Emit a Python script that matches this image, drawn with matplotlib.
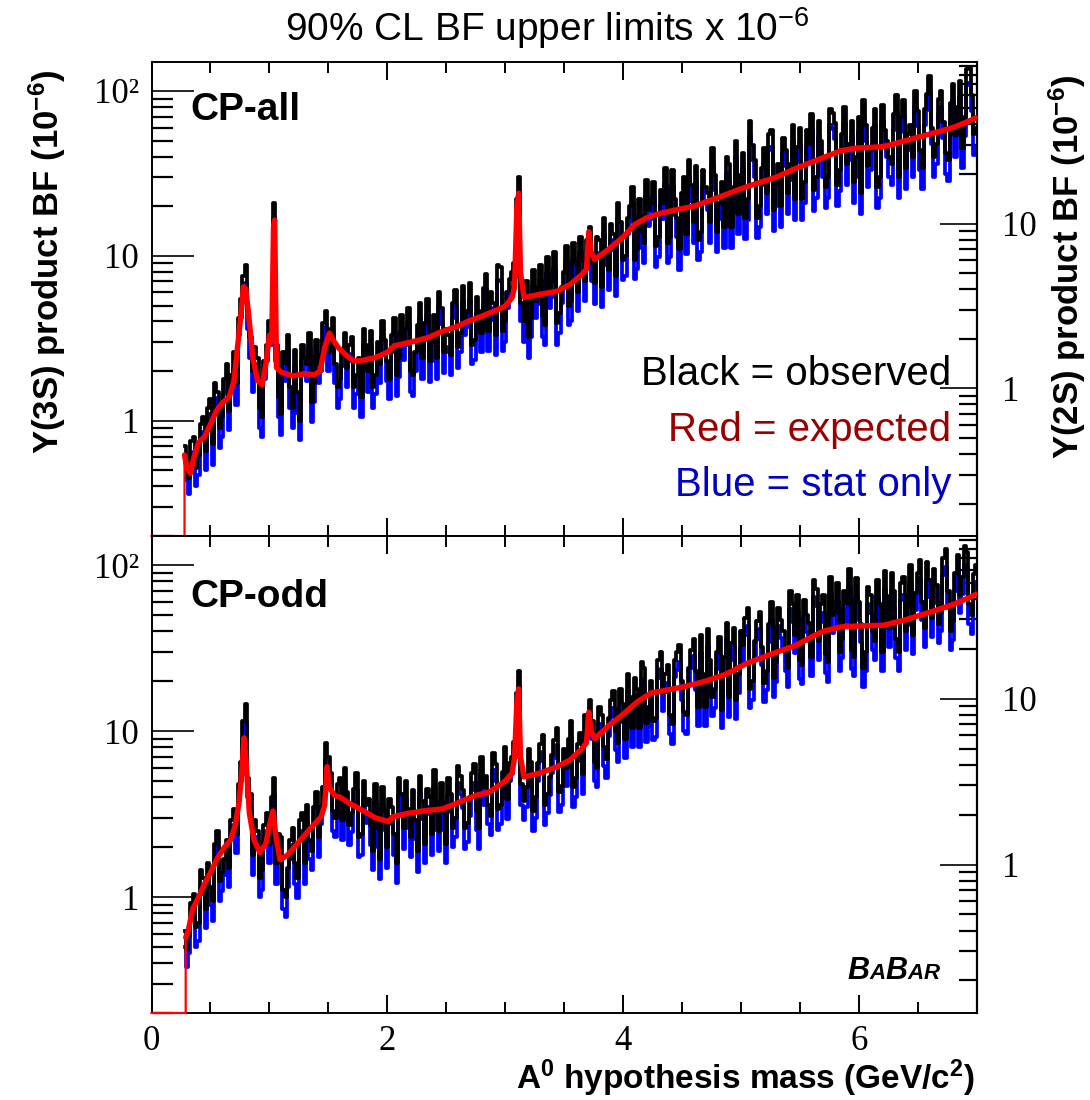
import numpy as np
import matplotlib
matplotlib.use("Agg")
import matplotlib.pyplot as plt
from matplotlib.ticker import MultipleLocator, LogLocator, NullFormatter

plt.rcParams['font.family'] = ['Liberation Sans', 'DejaVu Sans']
plt.rcParams['mathtext.fontset'] = 'custom'
plt.rcParams['mathtext.rm'] = 'Liberation Sans'
plt.rcParams['mathtext.it'] = 'Liberation Sans:italic'
plt.rcParams['mathtext.bf'] = 'Liberation Sans:bold'

# ---------------------------------------------------------------- data
# scan grid of A0 mass hypotheses (GeV/c^2)
MASS_START, MASS_STEP, N_POINTS = 0.28, 0.02, 337
mass = MASS_START + MASS_STEP * np.arange(N_POINTS)

# Upsilon(3S) product BF upper limits (x 1e-6), CP-all
obs_cp_all = [
    0.70, 0.55, 0.45, 0.75, 0.80, 0.52, 0.62, 0.95, 1.05, 0.66, 1.20, 1.35, 0.72, 1.7, 1.50, 0.90, 1.05, 1.8, 2.2, 1.15,
    1.9, 2.6, 1.7, 4.2, 5.5, 7.5, 8.8, 4.6, 3.2, 2.0, 2.8, 2.4, 1.2, 1.05, 2.3, 2.9, 4.0, 3.6, 21, 2.9,
    1.4, 1.1, 2.6, 2.2, 3.3, 1.6, 1.2, 2.7, 1.5, 1.0, 2.9, 2.4, 2.2, 3.4, 1.3, 1.7, 3.1, 2.2, 2.5, 3.9,
    4.6, 2.6, 3.6, 4.2, 2.2, 1.6, 1.8, 2.7, 3.4, 2.1, 2.9, 3.2, 1.6, 1.9, 2.4, 1.4, 3.6, 2.9, 2.0, 3.5,
    1.6, 1.9, 3.0, 2.2, 4.0, 3.1, 2.3, 1.8, 3.3, 4.2, 1.9, 2.4, 4.4, 3.0, 3.6, 4.8, 2.0, 1.9, 2.6, 3.8,
    5.2, 2.4, 3.9, 5.5, 2.3, 3.0, 4.4, 2.4, 6.0, 4.8, 2.6, 3.6, 3.3, 2.5, 5.2, 6.2, 2.8, 3.4, 6.6, 4.2,
    4.6, 6.8, 2.9, 3.1, 5.6, 4.6, 3.4, 6.4, 7.8, 3.5, 6.0, 5.2, 3.3, 8.8, 8.6, 3.5, 4.0, 6.0, 7.2, 8.0,
    9.0, 22, 30, 5.2, 4.0, 7.0, 3.2, 4.2, 8.2, 5.3, 6.4, 8.8, 4.3, 3.8, 9.8, 6.0, 7.0, 10.5, 3.9, 4.5,
    6.5, 8.0, 11.5, 5.0, 5.3, 12, 9.0, 6.0, 13, 9.5, 7.0, 12.5, 15, 9.0, 6.8, 13, 12.5, 6.5, 17, 11,
    8.2, 15.5, 13.5, 7.5, 21, 16, 9.5, 10, 17, 20, 26, 9.5, 11, 22, 14, 12, 29, 19, 21, 28,
    11.5, 13, 25, 21, 34, 12, 13, 33, 22, 17, 11, 24, 30, 13.5, 38, 27, 16, 35, 12.5, 14,
    33, 26, 24, 16, 45, 31, 14, 21, 28, 15, 40, 36, 15, 26, 50, 18, 31, 42, 17, 22,
    66, 47, 38, 17, 20, 34, 45, 24, 55, 58, 19, 27, 36, 20, 52, 44, 24, 36, 62, 22,
    46, 60, 22, 28, 58, 48, 72, 25, 30, 66, 50, 38, 26, 30, 78, 74, 64, 27, 33, 55,
    80, 36, 48, 66, 28, 40, 70, 24, 88, 62, 35, 44, 60, 78, 26, 30, 82, 58, 50, 40,
    36, 72, 95, 30, 70, 88, 34, 55, 62, 40, 100, 76, 44, 34, 78, 96, 123, 60, 40, 48,
    90, 100, 65, 42, 38, 84, 110, 54, 80, 115, 45, 70, 135, 140, 95, 55, 60,
]
stat_cp_all = [
    0.56, 0.44, 0.36, 0.6, 0.65, 0.40, 0.47, 0.77, 0.86, 0.5, 0.98, 1.1, 0.54, 1.38, 1.2, 0.68, 0.80, 1.45, 1.8, 0.88,
    1.5, 2.1, 1.25, 3.3, 4.2, 5.9, 6.8, 3.6, 2.4, 1.5, 2.2, 1.9, 0.90, 0.8, 1.8, 2.3, 3.2, 2.9, 17, 2.3,
    1.05, 0.82, 2.1, 1.75, 2.7, 1.2, 0.90, 2.15, 1.12, 0.76, 2.35, 1.9, 1.75, 2.75, 0.98, 1.3, 2.5, 1.7, 2.0, 3.1,
    3.7, 2.0, 2.9, 3.4, 1.7, 1.2, 1.35, 2.15, 2.75, 1.6, 2.3, 2.55, 1.2, 1.45, 1.9, 1.05, 2.9, 2.3, 1.5, 2.8,
    1.2, 1.45, 2.4, 1.7, 3.2, 2.5, 1.75, 1.35, 2.6, 3.4, 1.42, 1.85, 3.5, 2.35, 2.9, 3.9, 1.5, 1.42, 2.0, 3.0,
    4.2, 1.8, 3.1, 4.4, 1.72, 2.3, 3.5, 1.8, 4.9, 3.85, 1.95, 2.8, 2.6, 1.9, 4.2, 5.0, 2.1, 2.6, 5.3, 3.3,
    3.7, 5.5, 2.2, 2.35, 4.5, 3.6, 2.6, 5.1, 6.3, 2.65, 4.8, 4.1, 2.5, 7.1, 7.0, 2.65, 3.0, 4.8, 5.8, 6.4,
    7.3, 17.5, 24, 4.0, 3.0, 5.6, 2.4, 3.2, 6.6, 4.2, 5.1, 7.1, 3.2, 2.9, 7.9, 4.8, 5.6, 8.5, 2.9, 3.4,
    5.2, 6.4, 9.3, 3.8, 4.0, 9.7, 7.2, 4.6, 10.5, 7.6, 5.3, 10, 12, 7.0, 5.1, 10.4, 10, 4.9, 13.7, 8.8,
    6.2, 12.4, 10.8, 5.7, 17, 12.8, 7.1, 7.6, 13.6, 16, 21, 7.2, 8.3, 17.6, 11.2, 9.1, 23, 15.2, 16.8, 22.5,
    8.6, 9.8, 20, 16.8, 27, 9.0, 9.8, 26.5, 17.6, 13, 8.2, 19.2, 24, 10.2, 30, 21.6, 12, 28, 9.4, 10.5,
    26, 20.8, 19, 12, 36, 25, 10.5, 16.8, 22, 11.2, 32, 29, 11.2, 20.8, 40, 13.5, 25, 34, 12.7, 16.5,
    53, 38, 30, 12.8, 15, 27, 36, 18, 44, 46, 14.2, 20, 29, 15, 42, 35, 18, 29, 50, 16.5,
    37, 48, 16.5, 21, 46, 38, 58, 18.8, 22.5, 53, 40, 30, 19.5, 22.5, 62, 59, 51, 20, 24.7, 44,
    64, 27, 38, 53, 21, 30, 56, 18, 70, 50, 26, 33, 48, 62, 19.5, 22.5, 66, 46, 40, 30,
    27, 58, 76, 22.5, 56, 70, 25.5, 44, 50, 30, 80, 61, 33, 25.5, 62, 77, 98, 48, 30, 36,
    72, 80, 52, 31.5, 28.5, 67, 88, 40, 64, 92, 34, 53, 108, 112, 76, 41, 45,
]
exp_mass_cp_all = [
    0.0, 0.28, 0.28, 0.30, 0.33, 0.36, 0.40, 0.45, 0.50, 0.55,
    0.60, 0.66, 0.70, 0.73, 0.76, 0.78, 0.80, 0.83, 0.86, 0.90,
    0.94, 0.97, 1.00, 1.02, 1.035, 1.045, 1.06, 1.10, 1.20, 1.30,
    1.38, 1.43, 1.47, 1.51, 1.54, 1.58, 1.65, 1.72, 1.80, 1.90,
    2.00, 2.06, 2.20, 2.35, 2.45, 2.50, 2.60, 2.70, 2.80, 2.90,
    3.00, 3.06, 3.08, 3.10, 3.115, 3.13, 3.16, 3.30, 3.44, 3.55,
    3.65, 3.69, 3.71, 3.73, 3.76, 3.88, 4.00, 4.10, 4.20, 4.30,
    4.45, 4.60, 4.80, 5.00, 5.10, 5.30, 5.47, 5.70, 5.85, 5.98,
    6.10, 6.21, 6.40, 6.61, 6.80, 6.92, 7.00,
]
exp_cp_all = [
    0.0, 0.0, 0.62, 0.52, 0.48, 0.60, 0.74, 0.80, 0.95, 1.15,
    1.28, 1.40, 1.75, 2.8, 4.5, 6.5, 6.3, 4.0, 2.4, 1.75,
    1.65, 2.2, 3.3, 3.0, 15, 16.5, 2.1, 1.97, 1.87, 1.93,
    1.90, 2.0, 2.8, 3.4, 3.1, 2.8, 2.5, 2.3, 2.33, 2.42,
    2.6, 2.85, 3.0, 3.2, 3.45, 3.55, 3.75, 4.05, 4.3, 4.6,
    4.95, 5.6, 6.5, 20, 24, 8.0, 5.6, 5.85, 6.1, 6.7,
    7.7, 8.3, 14, 10.5, 9.5, 11, 13, 15.5, 17, 18,
    19, 20, 22.5, 25.5, 27, 30, 34, 39.5, 43.5, 45,
    45.5, 46, 50, 55, 60, 65, 69,
]

# CP-odd
obs_cp_odd = [
    0.62, 0.48, 0.58, 0.92, 1.05, 0.66, 0.70, 1.45, 1.3, 0.85, 1.6, 1.15, 0.95, 2.1, 2.5, 1.25, 1.4, 1.7, 2.2, 1.5,
    2.9, 3.4, 2.4, 4.8, 6.5, 11.5, 14.5, 5.2, 4.2, 1.8, 2.9, 2.5, 1.3, 1.45, 2.7, 3.2, 2.1, 4.0, 5.2, 1.6,
    2.4, 2.3, 1.1, 1.0, 1.5, 2.2, 2.6, 1.6, 1.3, 2.9, 3.2, 1.6, 3.6, 2.2, 1.9, 3.5, 4.3, 2.3, 3.5, 4.6,
    8.5, 7.0, 5.6, 3.3, 3.0, 4.8, 5.2, 2.9, 6.0, 4.3, 2.7, 3.2, 4.5, 5.6, 2.3, 2.4, 5.0, 3.6, 3.9, 2.7,
    1.9, 4.8, 2.6, 1.7, 4.6, 3.3, 2.0, 3.9, 3.5, 2.4, 1.6, 5.2, 4.2, 2.6, 5.0, 3.4, 2.3, 4.4, 2.9, 1.9,
    5.4, 3.8, 2.1, 4.5, 4.0, 2.4, 5.8, 3.3, 2.5, 4.9, 3.3, 2.1, 5.2, 4.2, 2.6, 3.0, 6.2, 5.4, 4.4, 2.6,
    2.8, 4.0, 5.6, 6.3, 3.3, 2.6, 7.0, 4.6, 5.4, 3.6, 3.1, 7.4, 6.3, 3.4, 3.6, 5.7, 8.0, 3.9, 6.4, 7.0,
    8.6, 17, 23, 4.8, 3.8, 4.6, 7.8, 6.5, 3.3, 4.0, 6.4, 8.4, 9.5, 3.6, 4.2, 5.3, 7.2, 8.8, 10.5, 4.3,
    4.7, 7.8, 6.0, 9.0, 11.5, 4.6, 5.2, 8.4, 9.8, 5.5, 12.5, 12, 15.5, 11.5, 6.5, 6.0, 14, 12.5, 8.0, 6.8,
    12, 15.5, 17.5, 10, 8.5, 18, 14.5, 9, 22, 16, 10.5, 21, 18, 10.5, 26, 24, 11.2, 14, 20, 11.5,
    12, 27, 30, 17, 22, 25, 12.5, 11, 27, 30, 33, 20, 13, 12.5, 24, 31, 36, 23, 14, 38,
    22, 14, 41, 27, 16, 18, 30, 37, 13.5, 28, 45, 16, 34, 42, 15.5, 22, 40, 33, 48, 55,
    18, 20, 35, 46, 52, 32, 19.5, 23, 44, 60, 21, 26, 55, 47, 40, 30, 24, 70, 58, 38,
    66, 27, 25, 62, 50, 45, 28, 82, 72, 35, 58, 66, 29, 26, 85, 50, 52, 78, 30, 36,
    70, 58, 95, 31, 28, 84, 60, 44, 24, 30, 74, 66, 40, 35, 82, 58, 30, 92, 65, 42,
    90, 70, 36, 30, 78, 85, 40, 56, 100, 38, 68, 90, 107, 60, 42, 105, 82, 48, 95, 76,
    44, 52, 110, 125, 70, 40, 46, 90, 115, 66, 85, 130, 120, 58, 50, 88, 100,
]
stat_cp_odd = [
    0.50, 0.38, 0.46, 0.74, 0.84, 0.5, 0.54, 1.15, 1.04, 0.65, 1.3, 0.9, 0.72, 1.65, 2.0, 0.95, 1.08, 1.35, 1.75, 1.15,
    2.3, 2.7, 1.85, 3.8, 5.0, 9.0, 11.3, 4.0, 3.3, 1.35, 2.3, 1.95, 1.0, 1.1, 2.15, 2.5, 1.6, 3.1, 4.1, 1.2,
    1.9, 1.8, 0.85, 0.76, 1.15, 1.7, 2.05, 1.2, 0.98, 2.25, 2.5, 1.2, 2.85, 1.7, 1.45, 2.75, 3.4, 1.75, 2.75, 3.6,
    6.8, 5.5, 4.4, 2.5, 2.3, 3.75, 4.1, 2.2, 4.8, 3.35, 2.05, 2.45, 3.55, 4.4, 1.75, 1.8, 3.95, 2.8, 3.05, 2.05,
    1.45, 3.75, 2.0, 1.28, 3.6, 2.55, 1.5, 3.05, 2.75, 1.8, 1.22, 4.05, 3.3, 1.95, 3.9, 2.6, 1.75, 3.4, 2.25, 1.42,
    4.25, 2.95, 1.6, 3.5, 3.15, 1.8, 4.6, 2.55, 1.9, 3.8, 2.55, 1.6, 4.1, 3.25, 2.0, 2.3, 4.9, 4.2, 3.45, 1.95,
    2.15, 3.1, 4.4, 4.9, 2.55, 1.95, 5.5, 3.6, 4.25, 2.75, 2.35, 5.8, 5.0, 2.55, 2.75, 4.4, 6.3, 2.95, 5.0, 5.5,
    6.9, 13.5, 18.5, 3.6, 2.9, 3.5, 6.1, 5.1, 2.5, 3.0, 5.0, 6.6, 7.5, 2.7, 3.2, 4.1, 5.6, 6.9, 8.3, 3.25,
    3.6, 6.1, 4.7, 7.0, 9.1, 3.5, 4.0, 6.6, 7.7, 4.2, 9.9, 9.5, 12.3, 9.0, 5.0, 4.6, 11, 9.8, 6.2, 5.2,
    9.4, 12.1, 13.8, 7.7, 6.5, 14, 11.4, 6.9, 17.4, 12.5, 8.0, 16.4, 14.2, 8.0, 20.5, 18.7, 8.6, 10.8, 15.7, 8.8,
    9.2, 21, 23.6, 13.2, 17.3, 19.5, 9.6, 8.4, 21.3, 23.4, 26, 15.5, 10, 9.6, 18.9, 24, 28.4, 17.8, 10.8, 29.6,
    17.3, 10.7, 32.3, 21, 12.3, 13.8, 23.6, 28.8, 10.4, 21.8, 35.5, 12.2, 26.8, 32.7, 11.9, 17, 31.5, 25.7, 37.8, 43,
    13.8, 15.3, 27.5, 35.8, 41, 25, 15, 17.6, 34.6, 46.8, 16.1, 19.9, 43.3, 36.6, 31.5, 23, 18.4, 54.6, 45.7, 29.6,
    52, 20.7, 19.2, 48.4, 39.4, 35, 21.5, 64, 56.7, 26.8, 45.7, 51.5, 22.3, 19.9, 67, 39, 41, 60.8, 23, 27.6,
    55, 45.2, 75, 23.7, 21.5, 65.5, 47, 34.3, 18.4, 23, 58, 51.5, 30.7, 26.8, 64.6, 45.2, 23, 71.8, 51, 32.2,
    71, 54.6, 27.6, 23, 61.4, 66.3, 30.7, 43.7, 79, 29.2, 53.5, 70.2, 84, 46.8, 32.3, 82, 64.6, 36.8, 75, 59.3,
    33.8, 40, 87, 97.5, 55, 30.7, 35.3, 70.2, 90.6, 51.5, 67, 101, 94.5, 44.5, 38.4, 68.6, 79,
]
exp_mass_cp_odd = [
    0.0, 0.29, 0.29, 0.31, 0.35, 0.40, 0.45, 0.50, 0.56, 0.62,
    0.67, 0.71, 0.74, 0.76, 0.785, 0.80, 0.83, 0.87, 0.92, 0.97,
    1.00, 1.03, 1.06, 1.09, 1.15, 1.25, 1.35, 1.44, 1.47, 1.49,
    1.51, 1.55, 1.60, 1.67, 1.80, 1.90, 2.01, 2.05, 2.18, 2.30,
    2.47, 2.60, 2.75, 2.87, 3.00, 3.06, 3.08, 3.10, 3.115, 3.13,
    3.16, 3.30, 3.44, 3.55, 3.65, 3.69, 3.71, 3.73, 3.76, 3.88,
    4.01, 4.12, 4.24, 4.50, 4.70, 4.87, 5.05, 5.25, 5.47, 5.60,
    5.70, 5.85, 5.98, 6.21, 6.40, 6.60, 6.80, 6.92, 7.00,
]
exp_cp_odd = [
    0.0, 0.0, 0.57, 0.62, 0.85, 1.0, 1.2, 1.4, 1.72, 2.0,
    2.2, 2.7, 3.6, 5.0, 9.1, 7.0, 3.2, 2.2, 1.85, 2.1,
    2.7, 3.3, 2.2, 1.68, 1.78, 2.15, 2.6, 3.05, 3.6, 6.1,
    4.6, 4.1, 4.0, 3.7, 3.3, 3.0, 2.85, 3.05, 3.2, 3.3,
    3.4, 3.7, 4.1, 4.3, 5.0, 5.6, 7.0, 15, 18, 7.0,
    5.3, 5.6, 6.1, 6.7, 7.8, 8.5, 13, 10, 9.0, 10.8,
    12.8, 15, 17, 18.4, 20, 22, 25.6, 29, 33, 37,
    40, 42.5, 43, 43.5, 47, 52, 58, 63, 67,
]

# Upsilon(3S) -> Upsilon(2S) scale factor for the right-hand axis
BF_RATIO = 1.57
YMIN, YMAX = 0.2, 150.0

# ---------------------------------------------------------------- figure
fig = plt.figure(figsize=(10.9, 11), dpi=100)
ax_top = fig.add_axes([0.139, 0.5127, 0.757, 0.431])
ax_bot = fig.add_axes([0.139, 0.0791, 0.757, 0.4336])

SERIF = 'Liberation Serif'


def draw_panel(ax, obs, stat, m_exp, v_exp, show_xlabels):
    ax.plot(mass, stat, color='#0000ff', lw=2.7, zorder=2,
            drawstyle='steps-mid')
    ax.plot(mass, obs, color='black', lw=2.7, zorder=3,
            drawstyle='steps-mid')
    m = np.asarray(m_exp)
    v = np.asarray(v_exp)
    # zero limit below threshold is shown on the frame floor
    ax.plot(m, np.clip(v, YMIN, None), color='red', lw=1.6, zorder=4,
            clip_on=False)
    pos = v > 0
    ax.plot(m[pos], v[pos], color='red', lw=3.9, zorder=5,
            solid_joinstyle='round', solid_capstyle='round')

    ax.set_yscale('log')
    ax.set_xlim(0, 7)
    ax.set_ylim(YMIN, YMAX)

    ax.set_yticks([1, 10, 100], labels=['1', '10', '10\u00b2'],
                  fontfamily=SERIF, fontsize=25)
    ax.yaxis.set_minor_locator(LogLocator(base=10, subs=np.arange(2, 10)))
    ax.yaxis.set_minor_formatter(NullFormatter())
    ax.tick_params(axis='y', which='major', direction='in', length=30,
                   width=1.2, left=True, right=False, pad=9)
    ax.tick_params(axis='y', which='minor', direction='in', length=15,
                   width=1.6, left=True, right=False)

    ax.set_xticks([0, 2, 4, 6], labels=['0', '2', '4', '6'],
                  fontfamily=SERIF, fontsize=25)
    ax.xaxis.set_minor_locator(MultipleLocator(0.5))
    ax.tick_params(axis='x', which='major', direction='in', length=13,
                   width=1.4, top=True, bottom=True, pad=9,
                   labelbottom=show_xlabels)
    ax.tick_params(axis='x', which='minor', direction='in', length=8,
                   width=1.4, top=True, bottom=True)

    for s in ax.spines.values():
        s.set_linewidth(1.4)

    sec = ax.secondary_yaxis('right', functions=(lambda y: y / BF_RATIO,
                                                 lambda y: y * BF_RATIO))
    sec.set_yticks([1, 10], labels=['1', '10'], fontfamily=SERIF,
                   fontsize=25)
    sec.yaxis.set_minor_locator(LogLocator(base=10, subs=np.arange(2, 10)))
    sec.yaxis.set_minor_formatter(NullFormatter())
    sec.tick_params(axis='y', which='major', direction='in', length=27,
                    width=1.2, pad=18)
    sec.tick_params(axis='y', which='minor', direction='in', length=13,
                    width=1.6)
    sec.spines['right'].set_linewidth(1.6)


draw_panel(ax_top, obs_cp_all, stat_cp_all, exp_mass_cp_all, exp_cp_all,
           False)
draw_panel(ax_bot, obs_cp_odd, stat_cp_odd, exp_mass_cp_odd, exp_cp_odd,
           True)

W, H = 1090.0, 1100.0


def fx(px):
    return px / W


def fy(py):
    return 1 - py / H


fig.text(fx(547), fy(28), r'90% CL BF upper limits x 10$^{-6}$',
         ha='center', va='center', fontsize=28)

fig.text(fx(190), fy(120), 'CP-all', fontweight='bold', fontsize=28,
         va='baseline', ha='left')
fig.text(fx(190), fy(607), 'CP-odd', fontweight='bold', fontsize=28,
         va='baseline', ha='left')

fig.text(fx(951), fy(385), 'Black = observed', color='black', fontsize=29,
         ha='right', va='baseline')
fig.text(fx(951), fy(441), 'Red = expected', color='#9a0000', fontsize=29,
         ha='right', va='baseline')
fig.text(fx(951), fy(496), 'Blue = stat only', color='#0000c8', fontsize=29,
         ha='right', va='baseline')

fig.text(fx(47), fy(262), 'Υ(3S) product BF (10$^{\\mathregular{-6}}$)',
         rotation=90, ha='center', va='center', fontsize=25,
         fontweight='bold')
fig.text(fx(1067), fy(267), 'Υ(2S) product BF (10$^{\\mathregular{-6}}$)',
         rotation=90, ha='center', va='center', fontsize=25,
         fontweight='bold')

fig.text(fx(975), fy(1089),
         'A$^{\\mathregular{0}}$ hypothesis mass (GeV/c$^{\\mathregular{2}}$)',
         ha='right', va='baseline', fontsize=24, fontweight='bold')

# BaBar logotype, letters set one after another
renderer = fig.canvas.get_renderer()
x_pos = fx(847)
for ch, size in [('B', 22), ('A', 16), ('B', 22), ('A', 16), ('R', 16)]:
    t = fig.text(x_pos, fy(979), ch, fontsize=size, fontweight='bold',
                 fontstyle='italic', ha='left', va='baseline')
    x_pos += t.get_window_extent(renderer=renderer).width / fig.bbox.width

fig.savefig('out.png', dpi=100)
